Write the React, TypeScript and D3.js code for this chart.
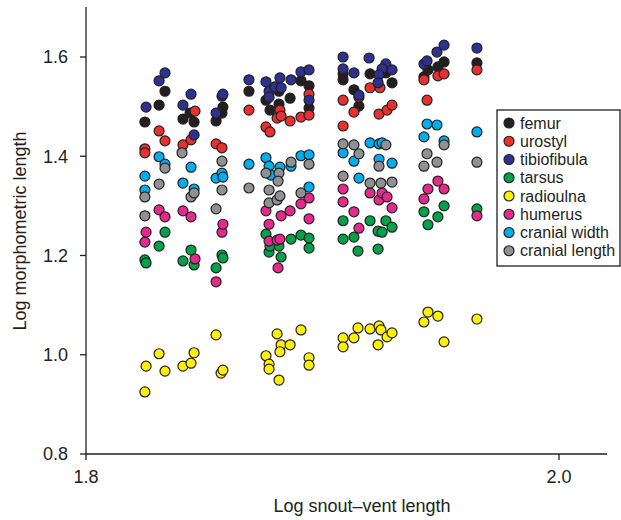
import React from 'react';
import * as d3 from 'd3';

// [log SVL, log morphometric length]
const femur = [
  [1.8249, 1.469], [1.8309, 1.503], [1.8334, 1.531], [1.841, 1.475], [1.844, 1.487], [1.8457, 1.469],
  [1.855, 1.471], [1.8575, 1.487], [1.8579, 1.499], [1.8689, 1.531], [1.8761, 1.513], [1.8778, 1.493],
  [1.8816, 1.531], [1.8816, 1.505], [1.8863, 1.517], [1.8909, 1.552], [1.8943, 1.542], [1.8943, 1.497],
  [1.9087, 1.566], [1.9087, 1.554], [1.9133, 1.534], [1.9154, 1.501], [1.9201, 1.566], [1.9268, 1.568],
  [1.9294, 1.548], [1.9429, 1.56], [1.9446, 1.574], [1.9488, 1.58], [1.9514, 1.59], [1.9653, 1.588],
];

const urostyl = [
  [1.8249, 1.415], [1.8249, 1.407], [1.8309, 1.451], [1.8334, 1.431], [1.841, 1.423], [1.8444, 1.433],
  [1.8461, 1.491], [1.855, 1.425], [1.8575, 1.417], [1.8689, 1.493], [1.8761, 1.459], [1.8778, 1.449],
  [1.882, 1.493], [1.8808, 1.477], [1.8825, 1.481], [1.8863, 1.471], [1.8909, 1.479], [1.8943, 1.483],
  [1.8943, 1.525], [1.9087, 1.513], [1.9087, 1.461], [1.9133, 1.489], [1.9154, 1.519], [1.9201, 1.538],
  [1.9243, 1.538], [1.9239, 1.485], [1.9273, 1.493], [1.9294, 1.503], [1.9429, 1.554], [1.9442, 1.513],
  [1.9488, 1.562], [1.9514, 1.566], [1.9653, 1.574],
];

const tibiofibula = [
  [1.8254, 1.499], [1.8309, 1.552], [1.8334, 1.568], [1.841, 1.503], [1.8444, 1.525], [1.8457, 1.443],
  [1.855, 1.487], [1.8575, 1.521], [1.8579, 1.525], [1.8689, 1.554], [1.8761, 1.55], [1.8774, 1.531],
  [1.8774, 1.519], [1.8799, 1.54], [1.882, 1.558], [1.8825, 1.538], [1.8867, 1.554], [1.8909, 1.57],
  [1.8943, 1.574], [1.8943, 1.513], [1.9087, 1.6], [1.9087, 1.576], [1.9133, 1.568], [1.9154, 1.523],
  [1.9197, 1.598], [1.9268, 1.586], [1.9252, 1.576], [1.9294, 1.574], [1.9239, 1.564], [1.9235, 1.548],
  [1.9429, 1.586], [1.9442, 1.592], [1.9484, 1.61], [1.9514, 1.624], [1.9653, 1.618],
];

const tarsus = [
  [1.8249, 1.191], [1.8254, 1.185], [1.8309, 1.219], [1.8334, 1.247], [1.841, 1.189], [1.8444, 1.211],
  [1.8457, 1.181], [1.855, 1.175], [1.8575, 1.201], [1.8579, 1.195], [1.8761, 1.243], [1.8774, 1.207],
  [1.8778, 1.219], [1.8816, 1.219], [1.8825, 1.197], [1.8867, 1.233], [1.8909, 1.241], [1.8943, 1.235],
  [1.8943, 1.215], [1.9087, 1.27], [1.9087, 1.233], [1.9133, 1.237], [1.915, 1.209], [1.9201, 1.27],
  [1.9235, 1.249], [1.9252, 1.247], [1.9268, 1.27], [1.9294, 1.257], [1.9235, 1.213], [1.9429, 1.288],
  [1.9446, 1.262], [1.9488, 1.278], [1.9514, 1.3], [1.9653, 1.294],
];

const radioulna = [
  [1.8254, 0.977], [1.8249, 0.925], [1.8309, 1.002], [1.8334, 0.967], [1.841, 0.977], [1.8444, 0.983],
  [1.8457, 1.004], [1.855, 1.04], [1.8571, 0.963], [1.8579, 0.969], [1.8761, 0.998], [1.8774, 0.981],
  [1.8774, 0.971], [1.8808, 1.042], [1.8825, 1.02], [1.882, 1.006], [1.8816, 0.949], [1.8863, 1.02],
  [1.8909, 1.05], [1.8943, 0.994], [1.8943, 0.979], [1.9087, 1.034], [1.9087, 1.016], [1.9133, 1.034],
  [1.915, 1.054], [1.9201, 1.052], [1.9239, 1.058], [1.9247, 1.05], [1.9273, 1.036], [1.9294, 1.044],
  [1.9235, 1.02], [1.9429, 1.066], [1.9446, 1.086], [1.9488, 1.078], [1.9514, 1.026], [1.9653, 1.072],
];

const humerus = [
  [1.8249, 1.227], [1.8254, 1.247], [1.8309, 1.292], [1.8334, 1.278], [1.841, 1.29], [1.8444, 1.278],
  [1.8461, 1.193], [1.855, 1.147], [1.8575, 1.247], [1.8579, 1.263], [1.8761, 1.29], [1.8774, 1.263],
  [1.8774, 1.229], [1.8808, 1.231], [1.882, 1.233], [1.8825, 1.28], [1.8863, 1.29], [1.8909, 1.304],
  [1.8943, 1.316], [1.8943, 1.274], [1.8812, 1.175], [1.9087, 1.334], [1.9087, 1.308], [1.9133, 1.288],
  [1.9154, 1.255], [1.9201, 1.326], [1.9239, 1.312], [1.9252, 1.326], [1.9273, 1.318], [1.9294, 1.296],
  [1.9429, 1.314], [1.9446, 1.334], [1.9488, 1.35], [1.9514, 1.334], [1.9653, 1.28],
];

const cranialWidth = [
  [1.8249, 1.36], [1.8249, 1.332], [1.8309, 1.399], [1.8334, 1.384], [1.841, 1.346], [1.8444, 1.378],
  [1.8457, 1.334], [1.855, 1.356], [1.8575, 1.366], [1.8579, 1.358], [1.8689, 1.384], [1.8761, 1.397],
  [1.8774, 1.38], [1.8782, 1.362], [1.882, 1.378], [1.8867, 1.38], [1.8909, 1.401], [1.8943, 1.403],
  [1.8943, 1.338], [1.9087, 1.407], [1.9133, 1.39], [1.9154, 1.356], [1.9201, 1.427], [1.9239, 1.425],
  [1.9252, 1.427], [1.9239, 1.394], [1.9294, 1.386], [1.9429, 1.439], [1.9442, 1.465], [1.9484, 1.463],
  [1.9514, 1.431], [1.9653, 1.449],
];

const cranialLength = [
  [1.8249, 1.318], [1.8249, 1.28], [1.8309, 1.344], [1.8334, 1.376], [1.8406, 1.407], [1.8444, 1.318],
  [1.8457, 1.326], [1.855, 1.294], [1.8575, 1.332], [1.8575, 1.39], [1.8689, 1.336], [1.8761, 1.366],
  [1.8774, 1.332], [1.8774, 1.306], [1.8808, 1.312], [1.882, 1.32], [1.8816, 1.366], [1.8812, 1.35],
  [1.8867, 1.388], [1.8909, 1.326], [1.8943, 1.384], [1.9087, 1.425], [1.9087, 1.36], [1.9133, 1.423],
  [1.9154, 1.405], [1.9201, 1.346], [1.9239, 1.38], [1.9247, 1.346], [1.9268, 1.423], [1.9294, 1.348],
  [1.9429, 1.38], [1.9442, 1.405], [1.9484, 1.388], [1.9514, 1.423], [1.9653, 1.388],
];

const seriesNames = ['femur', 'urostyl', 'tibiofibula', 'tarsus', 'radioulna', 'humerus', 'cranial width', 'cranial length'];
const seriesData = [femur, urostyl, tibiofibula, tarsus, radioulna, humerus, cranialWidth, cranialLength];
const seriesColors = ['#231f20', '#e8312f', '#2e3192', '#00a14b', '#fff200', '#e62a8d', '#00aeef', '#8f9295'];

const xTicks = [1.8, 2.0];
const yTicks = [0.8, 1.0, 1.2, 1.4, 1.6];

const FONT = 'Liberation Sans, Arial, Helvetica, sans-serif';
const INK = '#231f20';

const App = () => {
  const width = 621;
  const height = 520;

  const xScale = d3.scaleLinear().domain([1.8, 2.0]).range([86, 559]);
  const yScale = d3.scaleLinear().domain([0.8, 1.6]).range([454, 57]);

  const xEnd = 607;
  const yTop = 7;

  const points = seriesData.map((data, s) => (
    <g key={seriesNames[s]}>
      {data.map((d, i) => (
        <circle key={i} cx={xScale(d[0])} cy={yScale(d[1])} r={5} fill={seriesColors[s]} stroke={INK} strokeWidth={1.2} />
      ))}
    </g>
  ));

  const legendX = 497;
  const legendY = 110;

  return (
    <svg width={width} height={height} style={{ position: 'absolute', left: 0, top: 0, background: '#fff' }} fontFamily={FONT}>
      {/* axes */}
      <line x1={xScale(1.8)} x2={xScale(1.8)} y1={yTop} y2={yScale(0.8)} stroke={INK} strokeWidth={1.3} />
      <line x1={xScale(1.8)} x2={xEnd} y1={yScale(0.8)} y2={yScale(0.8)} stroke={INK} strokeWidth={1.3} />

      {yTicks.map((t) => (
        <g key={t}>
          <line x1={xScale(1.8) - 6} x2={xScale(1.8)} y1={yScale(t)} y2={yScale(t)} stroke={INK} strokeWidth={1.3} />
          <text x={68} y={yScale(t)} dy="0.36em" textAnchor="end" fontSize={18} fill={INK}>
            {t.toFixed(1)}
          </text>
        </g>
      ))}

      {xTicks.map((t) => (
        <g key={t}>
          <line x1={xScale(t)} x2={xScale(t)} y1={yScale(0.8)} y2={yScale(0.8) + 6} stroke={INK} strokeWidth={1.3} />
          <text x={xScale(t)} y={483} textAnchor="middle" fontSize={18} fill={INK}>
            {t.toFixed(1)}
          </text>
        </g>
      ))}

      <text x={362} y={512} textAnchor="middle" fontSize={18} fill={INK}>
        Log snout–vent length
      </text>
      <text transform={`translate(26, ${231}) rotate(-90)`} textAnchor="middle" fontSize={18} fill={INK}>
        Log morphometric length
      </text>

      {points}

      {/* legend */}
      <rect x={legendX} y={legendY} width={123} height={156} fill="#fff" stroke={INK} strokeWidth={1.3} />
      {seriesNames.map((name, i) => (
        <g key={name} transform={`translate(${legendX + 12}, ${legendY + 13 + i * 18.25})`}>
          <circle r={5} fill={seriesColors[i]} stroke={INK} strokeWidth={1.2} />
          <text x={11} dy="0.35em" fontSize={16} fill={INK}>
            {name}
          </text>
        </g>
      ))}
    </svg>
  );
};

export default App;
